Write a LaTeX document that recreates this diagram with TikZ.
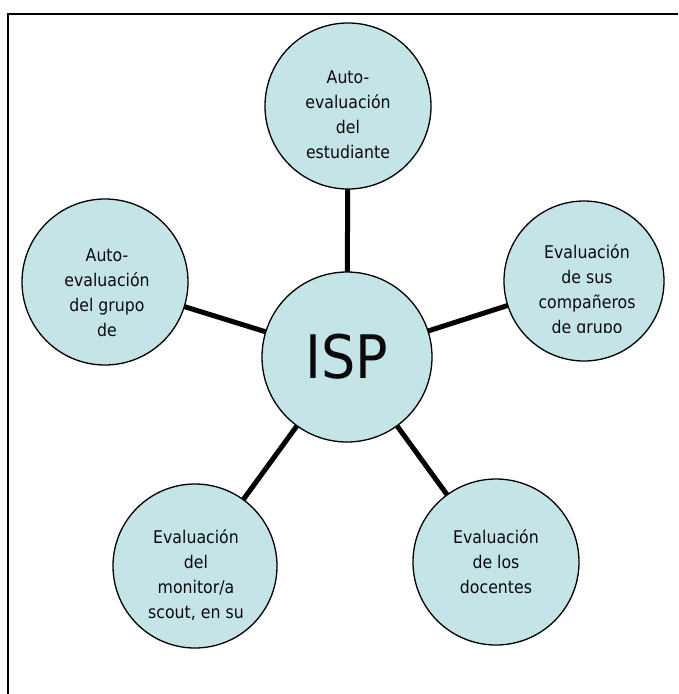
\documentclass[tikz,border=0pt]{standalone}
\usepackage{fontspec}
\setmainfont{DejaVu Sans}[FakeStretch=0.9]
\usetikzlibrary{backgrounds}
\definecolor{bubblefill}{RGB}{197,228,232}
\definecolor{ink}{RGB}{10,10,10}
\begin{document}
\begin{tikzpicture}[x=1pt,y=-1pt,
  bubble/.style={circle,draw=black,line width=1.3pt,fill=bubblefill,inner sep=0pt},
  lbl/.style={anchor=north,align=center,font=\fontsize{17.5}{25}\selectfont,text=ink,inner sep=0pt},
  spoke/.style={line width=5pt,black}]
\useasboundingbox (0,0) rectangle (678,694);
\coordinate (frameBL) at (8,694);
\coordinate (frameTL) at (8,14);
\coordinate (frameTR) at (678,14);
\draw[line width=2pt] (frameBL) -- (frameTL) -- (frameTR);

\node[bubble,minimum size=170pt,font=\fontsize{60}{62}\selectfont,text=ink] (C) at (347,357) {ISP};
\node[bubble,minimum size=166pt] (T) at (348,106) {};
\node[bubble,minimum size=160pt] (R) at (584,281) {};
\node[bubble,minimum size=166pt] (L) at (105,282) {};
\node[bubble,minimum size=164pt] (BL) at (195,566) {};
\node[bubble,minimum size=166pt] (BR) at (496,562) {};

\begin{scope}[on background layer]
  \draw[spoke] (C.center) -- (T.center);
  \draw[spoke] (C.center) -- (R.center);
  \draw[spoke] (C.center) -- (L.center);
  \draw[spoke] (C.center) -- (BL.center);
  \draw[spoke] (C.center) -- (BR.center);
\end{scope}

\node[lbl] (Tt) at (348,69) {\rule{0pt}{14pt}Auto-\\evaluación\\del\\estudiante};
\begin{scope}
  \clip (500,200) rectangle (670,332);
  \node[lbl] (Rt) at (587,244) {\rule{0pt}{14pt}Evaluación\\de sus\\compañeros\\de grupo};
\end{scope}
\node[lbl] (Lt) at (107,247) {\rule{0pt}{14pt}Auto-\\evaluación\\del grupo\\de};
\node[lbl] (BLt) at (196,529) {\rule{0pt}{14pt}Evaluación\\del\\monitor/a\\scout, en su};
\node[lbl] (BRt) at (496,529) {\rule{0pt}{14pt}Evaluación\\de los\\docentes};
\end{tikzpicture}
\end{document}
